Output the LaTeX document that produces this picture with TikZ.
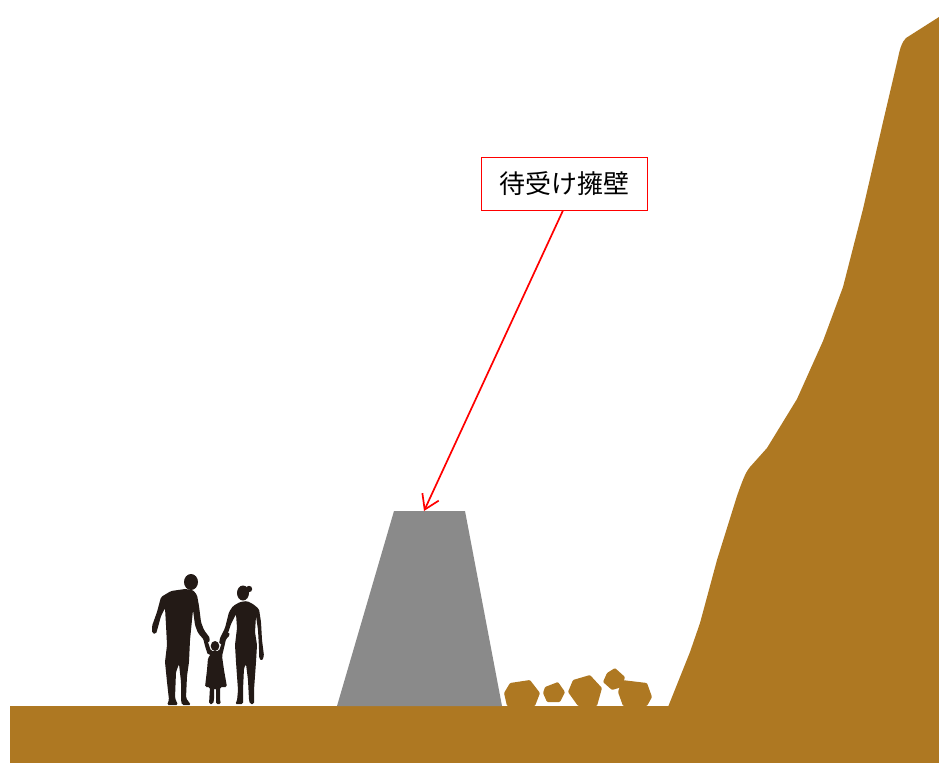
\documentclass[tikz,border=0pt]{standalone}
\usepackage{fontspec}
\newfontfamily\cjk{Noto Sans CJK JP}
\usetikzlibrary{arrows.meta}
\definecolor{soil}{RGB}{174,120,34}
\definecolor{wallgray}{RGB}{138,138,138}
\definecolor{shadow}{RGB}{35,26,22}
\tikzset{
  soilfill/.style={fill=soil, draw=none},
  rock/.style={fill=soil, draw=none, rounded corners=1pt},
  person/.style={fill=shadow, draw=none, rounded corners=1.5pt},
  labelbox/.style={draw=red, line width=0.9pt, fill=white, minimum width=166pt, minimum height=53pt, inner sep=0pt, font=\cjk\fontsize{26}{30}\selectfont},
  pointer/.style={draw=red, line width=1.7pt, -{Straight Barb[length=14pt,width=18pt,line width=1.7pt]}}
}
\begin{document}
\begin{tikzpicture}[x=1pt,y=-1pt]
\useasboundingbox (0,0) rectangle (939,763);

% ground
\fill[soilfill] (10,706) rectangle (939,763);

% hillside on the right
\fill[soilfill] (668,707) -- (690,652) -- (700,623) -- (717,560) -- (737,496)
  .. controls (742,482) and (745,473) .. (750,467) -- (767,448) -- (797,399)
  -- (823,341) -- (843,287) -- (863,209) -- (883,122) -- (898,58)
  .. controls (900,48) and (902,42) .. (906,38) -- (939,17) -- (939,707) -- cycle;

% retaining wall
\fill[wallgray] (337,706) -- (394,511) -- (465,511) -- (502,706) -- cycle;
\coordinate (walltop) at (424,511);

% fallen rocks
\fill[rock] (510,683) -- (530,680) -- (540,693) -- (535,706) -- (507,706) -- (504,693) -- cycle;
\fill[rock] (545,687) -- (558,682) -- (565,692) -- (560,702) -- (547,702) -- (543,693) -- cycle;
\fill[rock] (573,680) -- (590,675) -- (602,688) -- (597,706) -- (578,706) -- (568,692) -- cycle;
\fill[rock] (607,673) -- (615,668) -- (625,677) -- (622,687) -- (612,690) -- (603,682) -- cycle;
\fill[rock] (622,680) -- (647,683) -- (652,697) -- (647,706) -- (623,706) -- (618,692) -- cycle;

% father
\fill[shadow] (191,582) ellipse (7pt and 8pt);
\fill[person] (185,589) -- (171,591) -- (161,597) -- (157,612) -- (152,626) -- (152,633)
  -- (156,634) -- (158,627) -- (161,616) -- (165,608) -- (166,625) -- (167,645)
  -- (165,662) -- (167,682) -- (169,700) -- (167,705) -- (178,705) -- (175,698)
  -- (176,672) -- (179,664) -- (181,682) -- (181,700) -- (182,705) -- (191,705)
  -- (186,698) -- (187,676) -- (189,662) -- (190,640) -- (192,620) -- (193,610)
  -- (195,625) -- (198,633) -- (205,641) -- (209,643) -- (210,638) -- (204,630)
  -- (201,622) -- (199,606) -- (197,595) -- (193,590) -- cycle;

% mother
\fill[shadow] (243,593) ellipse (6pt and 7.5pt);
\fill[shadow] (249,589) circle (3.2pt);
\fill[person] (240,602) -- (233,606) -- (229,612) -- (225,628) -- (220,638) -- (219,644)
  -- (223,644) -- (227,636) -- (231,624) -- (236,614) -- (237,628) -- (235,645)
  -- (236,662) -- (238,690) -- (237,701) -- (235,704) -- (243,704) -- (243,690)
  -- (244,668) -- (246,664) -- (248,680) -- (249,700) -- (250,704) -- (254,704)
  -- (254,690) -- (256,662) -- (257,645) -- (255,632) -- (256,616) -- (258,630)
  -- (259,648) -- (259,658) -- (262,661) -- (264,656) -- (262,640) -- (261,622)
  -- (259,609) -- (253,604) -- (247,601) -- cycle;

% child
\fill[shadow] (215,646) ellipse (4.3pt and 5pt);
\fill[person] (211,654) -- (208,655) -- (205,646) -- (203,638) -- (199,633) -- (201,631)
  -- (206,636) -- (209,645) -- (211,651) -- (219,651) -- (221,645) -- (224,636)
  -- (229,632) -- (230,635) -- (226,639) -- (224,648) -- (222,656) -- (224,670)
  -- (227,687) -- (220,687) -- (220,700) -- (221,704) -- (216,704) -- (216,688)
  -- (214,688) -- (214,700) -- (213,704) -- (209,704) -- (210,687) -- (205,687)
  -- (207,670) -- (208,658) -- cycle;

% label and pointer
\node[labelbox] (label) at (564,183.5) {待受け擁壁};
\coordinate (lblfoot) at ([xshift=-1pt]label.south);
\draw[pointer] (lblfoot) -- (walltop);
\end{tikzpicture}
\end{document}
